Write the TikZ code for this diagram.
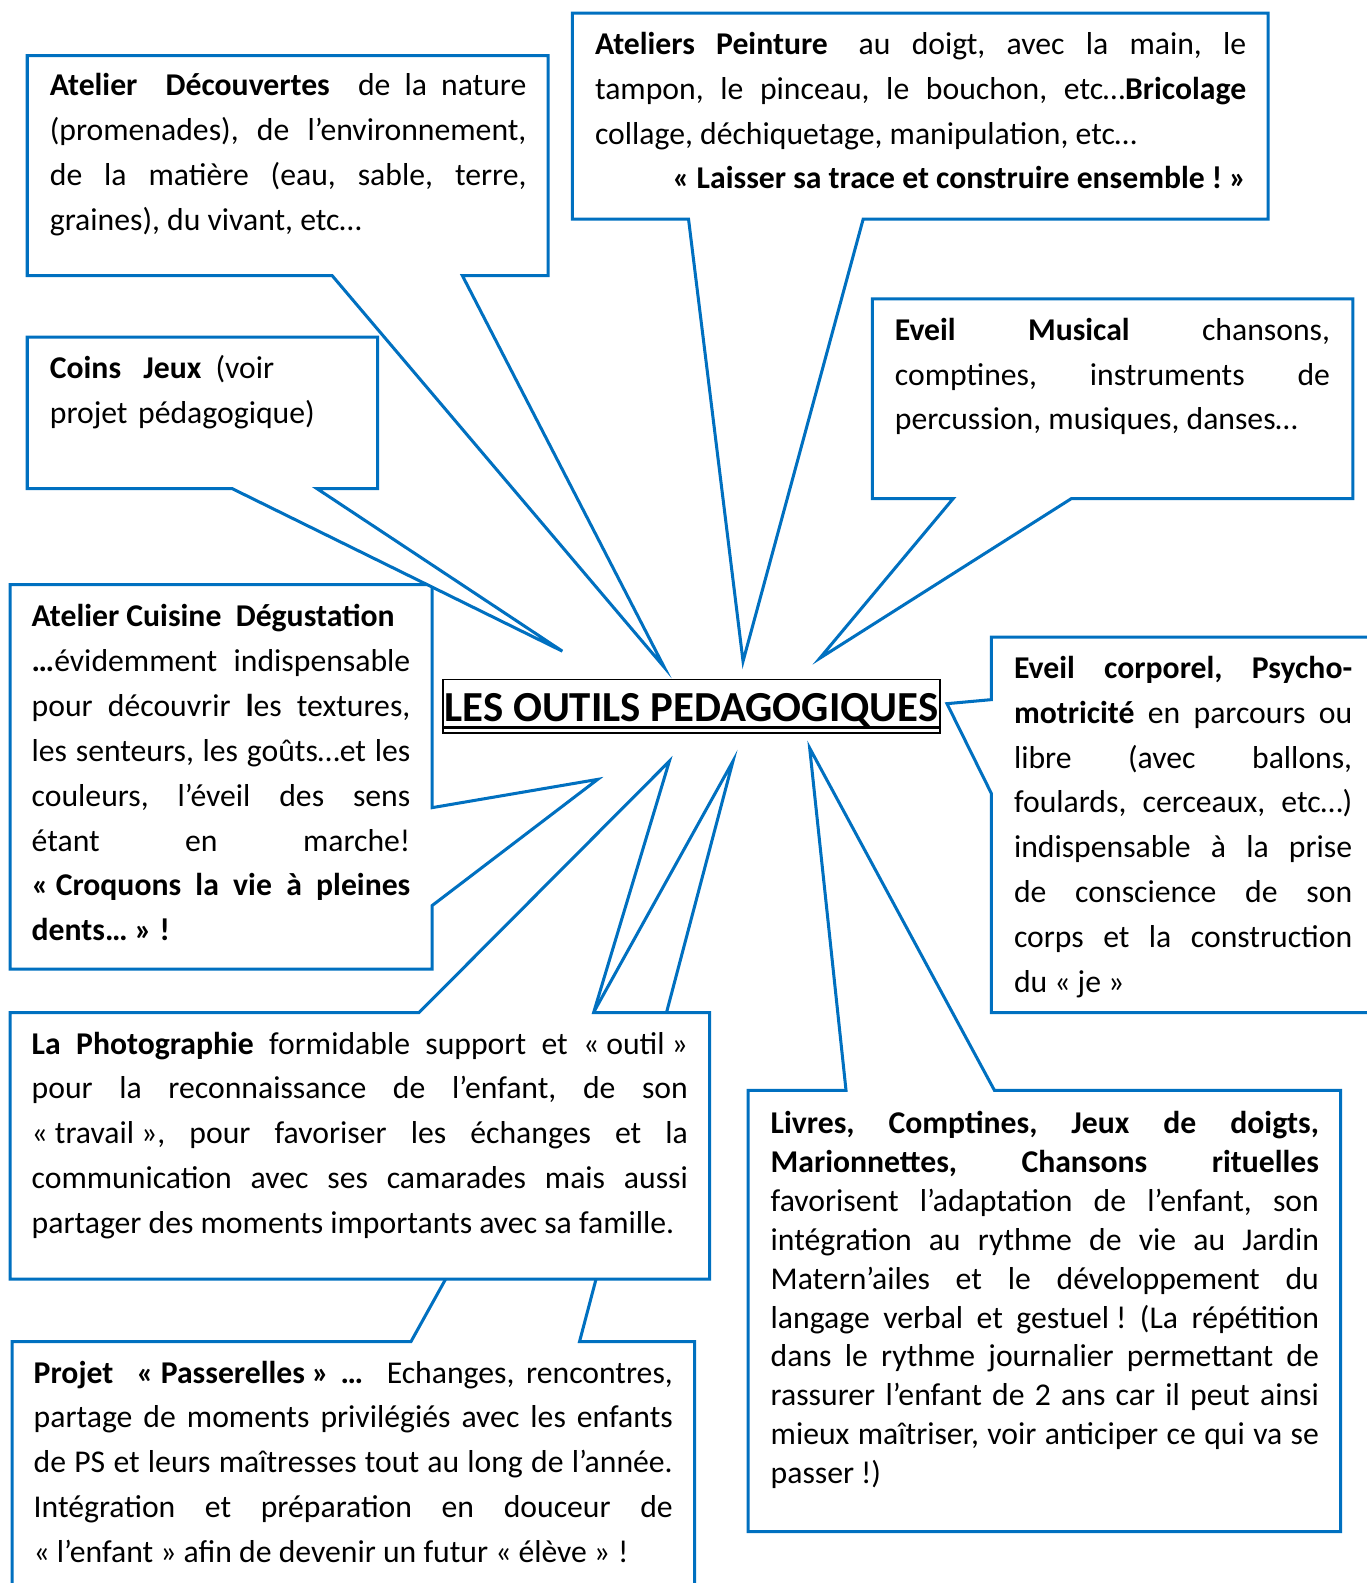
\documentclass[tikz,border=0pt]{standalone}
\usepackage{fontspec}
\setmainfont{Carlito}
\definecolor{bleu}{RGB}{0,112,192}
\hyphenpenalty=10000
\tolerance=10000
\frenchspacing
% guillemets avec espace fixe
\newcommand{\ouv}{«\nobreak\hspace{.22em}}
\newcommand{\fer}{\nobreak\hspace{.22em}»}

\begin{document}
\begin{tikzpicture}[x=0.5pt,y=-0.5pt,
	bulle/.style={draw=bleu, line width=1.5pt, fill=white},
	texte/.style={anchor=base west, inner sep=0pt, align=justify, font=\fontsize{15.7}{22.2}\selectfont}]
	\clip (0,0) rectangle (1354,1568);

	% les bulles, de l'arriere vers l'avant
	\draw[bulle] (27,55) -- (543,55) -- (543,273) -- (458,273) -- (658,661) -- (329,273) -- (27,273) -- cycle;
	\draw[bulle] (567,13) -- (1256,13) -- (1256,217) -- (855,217) -- (736,655) -- (682,217) -- (567,217) -- cycle;
	\draw[bulle] (10,579) -- (428,579) -- (428,800) -- (592,772) -- (428,897) -- (428,960) -- (10,960) -- cycle;
	\draw[bulle] (27,334) -- (374,334) -- (374,484) -- (314,484) -- (557,645) -- (230,484) -- (27,484) -- cycle;
	\draw[bulle] (864,296) -- (1340,296) -- (1340,494) -- (1061,494) -- (812,652) -- (944,494) -- (864,494) -- cycle;
	\draw[bulle] (982,631) -- (1362,631) -- (1362,1003) -- (982,1003) -- (982,786) -- (938,697) -- (982,693) -- cycle;
	\draw[bulle] (12,1329) -- (407,1329) -- (726,754) -- (574,1329) -- (688,1329) -- (688,1600) -- (12,1600) -- cycle;
	\draw[bulle] (10,1003) -- (415,1003) -- (663,754) -- (588,1003) -- (703,1003) -- (703,1267) -- (10,1267) -- cycle;
	\draw[bulle] (741,1080) -- (838,1080) -- (802,741) -- (985,1080) -- (1328,1080) -- (1328,1517) -- (741,1517) -- cycle;

	% titre
	\node[anchor=base, inner sep=0pt, font=\bfseries\fontsize{21.2}{26}\selectfont] (titre) at (685,715) {LES OUTILS PEDAGOGIQUES};
	\draw[line width=0.8pt] (439,673) rectangle (931,726);
	\draw[line width=1.1pt] (439,720.5) -- (931,720.5);

	% textes
	\node[texte, text width=236pt] (decouvertes) at (49,95)
		{\textbf{Atelier\ \ Découvertes}\ \ de la nature\linebreak
		(promenades), de l’environnement,\linebreak
		de la matière (eau, sable, terre,\linebreak
		graines), du vivant, etc…};
	\node[texte, text width=322.5pt] (peinture) at (589,54)
		{\textbf{Ateliers Peinture}\hspace{.3em} au doigt, avec la main, le\linebreak
		tampon, le pinceau, le bouchon, etc…\textbf{Bricolage}\linebreak
		collage, déchiquetage, manipulation, etc…\\
		\hspace*{\fill}\textbf{\ouv Laisser sa trace et construire ensemble\nobreak\hspace{.22em}!\fer}};
	\node[texte, align=left, text width=160pt] (coins) at (49,375)
		{\textbf{Coins\hspace{11pt}Jeux}\hspace{7pt}(voir\\
		projet pédagogique)};
	\node[texte, text width=215.5pt] (musical) at (886,337)
		{\textbf{Eveil Musical} chansons,\linebreak
		comptines, instruments de\linebreak
		percussion, musiques, danses…};
	\node[texte, text width=187.5pt] (cuisine) at (31,621)
		{\textbf{Atelier Cuisine\ \ Dégustation}\\
		\textbf{…}évidemment indispensable\linebreak
		pour découvrir \textbf{l}es textures,\linebreak
		les senteurs, les goûts…et les\linebreak
		couleurs, l’éveil des sens\linebreak
		étant en marche!\linebreak
		\textbf{\ouv Croquons la vie à pleines}\linebreak
		\textbf{dents…\fer\nobreak\hspace{.25em}!}};
	\node[texte, text width=167.5pt] (corporel) at (1004,672)
		{\textbf{Eveil corporel, Psycho-}\linebreak
		\textbf{motricité} en parcours ou\linebreak
		libre (avec ballons,\linebreak
		foulards, cerceaux, etc…)\linebreak
		indispensable à la prise\linebreak
		de conscience de son\linebreak
		corps et la construction\linebreak
		du \ouv je\fer};
	\node[texte, text width=325pt] (photo) at (31,1044)
		{\textbf{La Photographie} formidable support et \ouv outil\fer\linebreak
		pour la reconnaissance de l’enfant, de son\linebreak
		\ouv travail\fer, pour favoriser les échanges et la\linebreak
		communication avec ses camarades mais aussi\linebreak
		partager des moments importants avec sa famille.};
	\node[texte, text width=316.5pt] (passerelles) at (33,1370)
		{\textbf{Projet\ \ \ouv Passerelles\fer\ …}\ \ Echanges, rencontres,\linebreak
		partage de moments privilégiés avec les enfants\linebreak
		de PS et leurs maîtresses tout au long de l’année.\linebreak
		Intégration et préparation en douceur de\linebreak
		\ouv l’enfant\fer\ afin de devenir un futur \ouv élève\fer\nobreak\hspace{.25em}!};
	\node[texte, text width=271.5pt, font=\fontsize{15.7}{19.25}\selectfont] (livres) at (763,1123)
		{\textbf{Livres, Comptines, Jeux de doigts,}\linebreak
		\textbf{Marionnettes, Chansons rituelles}\linebreak
		favorisent l’adaptation de l’enfant, son\linebreak
		intégration au rythme de vie au Jardin\linebreak
		Matern’ailes et le développement du\linebreak
		langage verbal et gestuel\nobreak\hspace{.22em}! (La répétition\linebreak
		dans le rythme journalier permettant de\linebreak
		rassurer l’enfant de 2 ans car il peut ainsi\linebreak
		mieux maîtriser, voir anticiper ce qui va se\linebreak
		passer\nobreak\hspace{.22em}!)};
\end{tikzpicture}
\end{document}
